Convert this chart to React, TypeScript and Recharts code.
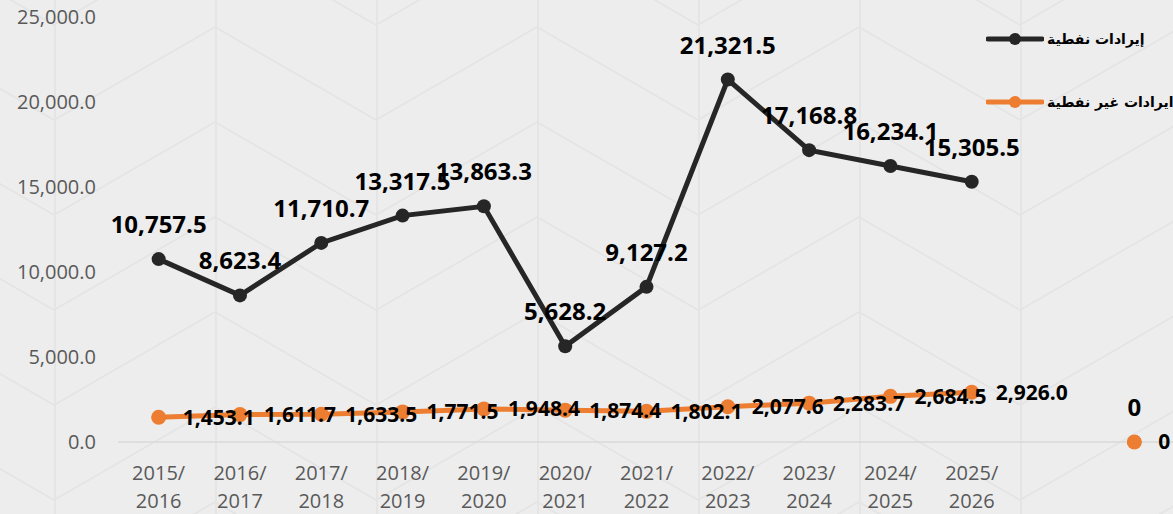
import React from 'react';
import { LineChart, Line, XAxis, YAxis, LabelList, Legend } from 'recharts';

// budget years; the two trailing blanks hold the stray "0" points of the source sheet
const categories = [
  '2015/2016', '2016/2017', '2017/2018', '2018/2019', '2019/2020', '2020/2021',
  '2021/2022', '2022/2023', '2023/2024', '2024/2025', '2025/2026', '', '',
];
const oilRevenue = [
  10757.5, 8623.4, 11710.7, 13317.5, 13863.3, 5628.2,
  9127.2, 21321.5, 17168.8, 16234.1, 15305.5, null, 0,
];
const nonOilRevenue = [
  1453.1, 1611.7, 1633.5, 1771.5, 1948.4, 1874.4,
  1802.1, 2077.6, 2283.7, 2684.5, 2926.0, null, 0,
];
const yTicks = [0, 5000, 10000, 15000, 20000, 25000];

const OIL_NAME = 'إيرادات نفطية';
const NON_OIL_NAME = 'ايرادات غير نفطية';

const data = categories.map((year, i) => ({
  year,
  oil: oilRevenue[i],
  nonOil: nonOilRevenue[i],
}));

const fmt = (v: any) => {
  if (v === null || v === undefined) return '';
  if (v === 0) return '0';
  return Number(v).toLocaleString('en-US', { minimumFractionDigits: 1, maximumFractionDigits: 1 });
};

const tickFmt = (v: number) =>
  v.toLocaleString('en-US', { minimumFractionDigits: 1, maximumFractionDigits: 1 });

const bgPattern =
  "url(\"data:image/svg+xml;utf8," +
  encodeURIComponent(
    "<svg xmlns='http://www.w3.org/2000/svg' width='322' height='95'>" +
      "<g fill='none' stroke='#e4e4e4' stroke-width='1.6'>" +
      "<path d='M1 0V95M162 0V95'/>" +
      "<path d='M0 94L161 1L322 94'/>" +
      "</g></svg>"
  ) +
  "\")";

const XTick = (props: any) => {
  const { x, y, payload } = props;
  const parts = String(payload.value).split('/');
  if (parts.length < 2) return null;
  return (
    <text x={x} y={y} textAnchor="middle" fill="#595959" fontSize={20} fontFamily="'Open Sans', sans-serif">
      <tspan x={x} dy={38}>{parts[0] + '/'}</tspan>
      <tspan x={x} dy={28}>{parts[1]}</tspan>
    </text>
  );
};

const LegendContent = (props: any) => {
  const { payload } = props;
  return (
    <div>
      {(payload || []).map((entry: any) => (
        <div key={entry.value} style={{ display: 'flex', alignItems: 'center', height: 63 }}>
          <svg width={58} height={16} style={{ display: 'block', flexShrink: 0 }}>
            <line x1={2} y1={8} x2={56} y2={8} stroke={entry.color} strokeWidth={5} strokeLinecap="round" />
            <circle cx={29} cy={8} r={6} fill={entry.color} />
          </svg>
          <span
            dir="rtl"
            style={{
              display: 'inline-block',
              flexShrink: 0,
              marginLeft: 3,
              fontSize: 14,
              fontWeight: 'bold',
              color: '#000',
              fontFamily: "'DejaVu Sans', sans-serif",
              whiteSpace: 'nowrap',
            }}
          >
            {entry.value}
          </span>
        </div>
      ))}
    </div>
  );
};

export default function App() {
  return (
    <div
      style={{
        position: 'absolute',
        left: 0,
        top: 0,
        width: 1173,
        height: 514,
        overflow: 'hidden',
        backgroundColor: '#ededed',
        backgroundImage: bgPattern,
        backgroundPosition: '54px 26px',
      }}
    >
      <LineChart width={1180} height={514} data={data} margin={{ top: 17, right: 5, bottom: 0, left: 0 }}>
        <XAxis
          dataKey="year"
          height={72}
          tickLine={false}
          tickSize={0}
          tickMargin={0}
          interval={0}
          padding={{ left: 40.65, right: 40.65 }}
          axisLine={{ stroke: '#d9d9d9', strokeWidth: 1.5 }}
          tick={<XTick />}
        />
        <YAxis
          width={118}
          domain={[0, 25000]}
          ticks={yTicks}
          axisLine={false}
          tickLine={false}
          tickSize={0}
          tickMargin={22}
          tickFormatter={tickFmt}
          tick={{ fill: '#595959', fontSize: 20, fontFamily: "'Open Sans', sans-serif" }}
        />
        <Legend
          layout="vertical"
          align="center"
          verticalAlign="middle"
          content={<LegendContent />}
          wrapperStyle={{ left: 986, top: 7, width: 184, height: 130 }}
        />
        <Line
          name={OIL_NAME}
          dataKey="oil"
          stroke="#262626"
          strokeWidth={5}
          dot={{ r: 7, fill: '#262626', stroke: 'none' }}
          activeDot={false}
          isAnimationActive={false}
        >
          <LabelList
            dataKey="oil"
            position="top"
            offset={26}
            formatter={fmt}
            fill="#000"
            fontSize={24}
            fontWeight="bold"
            fontFamily="'Open Sans', sans-serif"
          />
        </Line>
        <Line
          name={NON_OIL_NAME}
          dataKey="nonOil"
          stroke="#ED7D31"
          strokeWidth={5}
          dot={{ r: 7.5, fill: '#ED7D31', stroke: 'none' }}
          activeDot={false}
          isAnimationActive={false}
        >
          <LabelList
            dataKey="nonOil"
            position="right"
            offset={24}
            formatter={fmt}
            fill="#000"
            fontSize={21}
            fontWeight="bold"
            fontFamily="'Open Sans', sans-serif"
          />
        </Line>
      </LineChart>
    </div>
  );
}
